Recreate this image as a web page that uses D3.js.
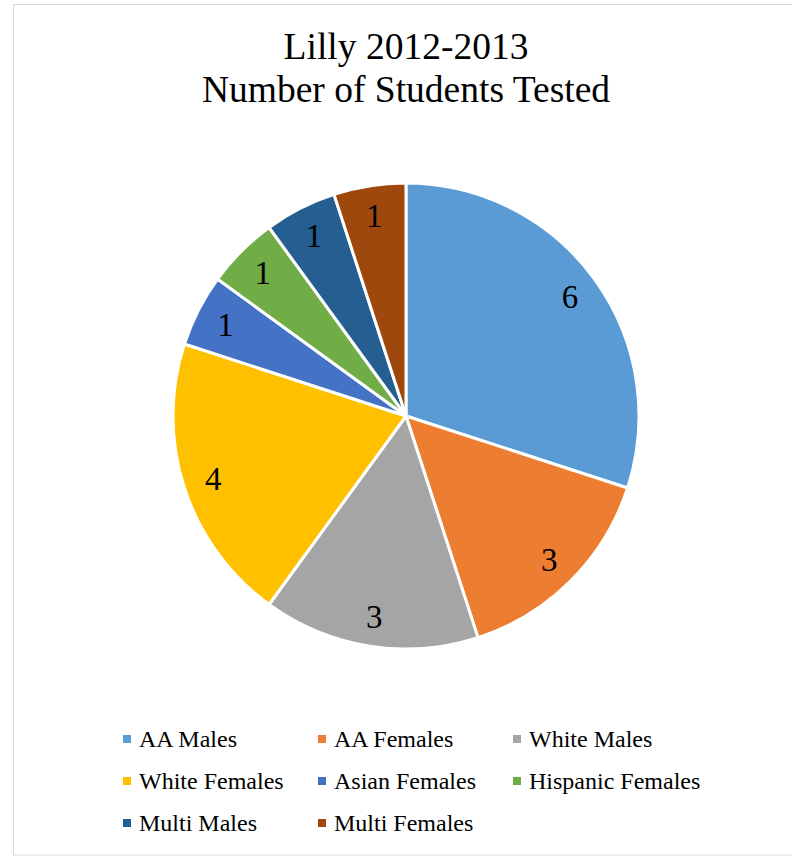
<!DOCTYPE html>
<html>
<head>
<meta charset="utf-8">
<script src="https://cdn.jsdelivr.net/npm/d3@7"></script>
<style>
  html, body { margin: 0; padding: 0; background: #fff; }
  svg { display: block; }
  text { font-family: "Liberation Serif", "Times New Roman", serif; fill: #000; }
</style>
</head>
<body>
<svg id="chart" width="792" height="856"></svg>
<script>
// Students tested per group
const categories = ["AA Males", "AA Females", "White Males", "White Females",
                    "Asian Females", "Hispanic Females", "Multi Males", "Multi Females"];
const counts = [6, 3, 3, 4, 1, 1, 1, 1];
const colors = ["#5B9BD5", "#ED7D31", "#A5A5A5", "#FFC000",
                "#4472C4", "#70AD47", "#255E91", "#9E480E"];
const titleLines = ["Lilly 2012-2013", "Number of Students Tested"];

const svg = d3.select("#chart");
const W = 792, H = 856;

// chart area frame
svg.append("rect")
  .attr("x", 13.5).attr("y", 4.5)
  .attr("width", W + 10).attr("height", 850.5)
  .attr("fill", "#fff").attr("stroke", "#D9D9D9").attr("stroke-width", 1);

// title
svg.append("text")
  .attr("text-anchor", "middle")
  .attr("font-size", 37.5)
  .selectAll("tspan").data(titleLines).join("tspan")
  .attr("x", 406).attr("y", (d, i) => 59 + i * 43)
  .text(d => d);

// pie
const cx = 406, cy = 416, R = 233;
const data = categories.map((c, i) => ({ name: c, value: counts[i], color: colors[i] }));
const pie = d3.pie().value(d => d.value).sort(null);
const arcs = pie(data);
const arc = d3.arc().innerRadius(0).outerRadius(R);
const labelArc = d3.arc().innerRadius(R * 0.87).outerRadius(R * 0.87);

const g = svg.append("g").attr("transform", `translate(${cx},${cy})`);
g.selectAll("path").data(arcs).join("path")
  .attr("d", arc)
  .attr("fill", d => d.data.color)
  .attr("stroke", "#fff")
  .attr("stroke-width", 3)
  .attr("stroke-linejoin", "round");

g.selectAll("text.lbl").data(arcs).join("text")
  .attr("class", "lbl")
  .attr("transform", d => `translate(${labelArc.centroid(d)})`)
  .attr("text-anchor", "middle")
  .attr("dy", "0.35em")
  .attr("font-size", 33)
  .text(d => d.data.value);

// legend
const colX = [123, 318, 513];
const rowY = [739, 781, 823];
const leg = svg.append("g");
data.forEach((d, i) => {
  const x = colX[i % 3], y = rowY[Math.floor(i / 3)];
  leg.append("rect")
    .attr("x", x).attr("y", y - 4).attr("width", 8).attr("height", 8)
    .attr("fill", d.color);
  leg.append("text")
    .attr("x", x + 16).attr("y", y)
    .attr("dy", "0.35em")
    .attr("font-size", 24)
    .text(d.name);
});
</script>
</body>
</html>
